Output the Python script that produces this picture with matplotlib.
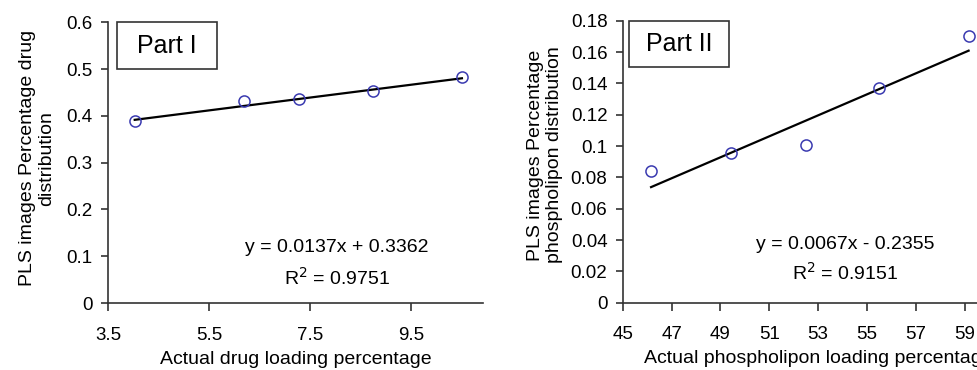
import matplotlib.pyplot as plt
from matplotlib.patches import Rectangle
from matplotlib.ticker import FuncFormatter

plt.rcParams['font.family'] = ['Liberation Sans', 'DejaVu Sans']

# Part I data (drug)
drug_x = [4.03, 6.19, 7.28, 8.75, 10.51]
drug_y = [0.389, 0.432, 0.435, 0.453, 0.483]
drug_slope, drug_icpt = 0.0137, 0.3362
drug_eq = ['y = 0.0137x + 0.3362', 'R$^2$ = 0.9751']
drug_xticks = [3.5, 5.5, 7.5, 9.5]
drug_yticks = [0, 0.1, 0.2, 0.3, 0.4, 0.5, 0.6]

# Part II data (phospholipon)
phos_x = [46.16, 49.42, 52.5, 55.5, 59.16]
phos_y = [0.0841, 0.0957, 0.1007, 0.1368, 0.1704]
phos_slope, phos_icpt = 0.0067, -0.2355
phos_eq = ['y = 0.0067x - 0.2355', 'R$^2$ = 0.9151']
phos_xticks = [45, 47, 49, 51, 53, 55, 57, 59]
phos_yticks = [0, 0.02, 0.04, 0.06, 0.08, 0.1, 0.12, 0.14, 0.16, 0.18]

fig = plt.figure(figsize=(9.77, 3.7), dpi=100)
ax1 = fig.add_axes([0.1105, 0.181, 0.384, 0.759])
ax2 = fig.add_axes([0.6374, 0.182, 0.400, 0.762])

gfmt = FuncFormatter(lambda v, p: '%g' % round(v, 4))


def draw(ax, xs, ys, m, b, eq, xt, yt, xlim, ylim, xlabel, ylabel, part,
         box, eqpos, ylab_pos):
    ax.plot(xs, ys, 'o', mfc='none', mec='#3a3ab0', ms=8, mew=1.1,
            zorder=3, clip_on=False)
    fx = [xs[0], xs[-1]]
    ax.plot(fx, [m * v + b for v in fx], color='black', lw=1.6, zorder=2)
    ax.set_xlim(*xlim)
    ax.set_ylim(*ylim)
    ax.set_xticks(xt)
    ax.set_yticks(yt)
    ax.yaxis.set_major_formatter(gfmt)
    ax.xaxis.set_major_formatter(gfmt)
    for s in ['top', 'right']:
        ax.spines[s].set_visible(False)
    for s in ['left', 'bottom']:
        ax.spines[s].set_color('#333333')
        ax.spines[s].set_linewidth(1.2)
    ax.tick_params(direction='out', length=5, width=1.2, color='#333333',
                   labelsize=13.5)
    ax.tick_params(axis='x', pad=11, length=6)
    ax.tick_params(axis='y', pad=6)
    ax.set_xlabel(xlabel, fontsize=14, labelpad=5)
    ax.set_ylabel(ylabel, fontsize=14, va='center', ha='center',
                  linespacing=1.1)
    ax.yaxis.set_label_coords(*ylab_pos)
    x0, y0, x1, y1 = box
    ax.add_patch(Rectangle((x0, y0), x1 - x0, y1 - y0, transform=ax.transAxes,
                           fill=False, ec='#333333', lw=1.2, clip_on=False))
    ax.text((x0 + x1) / 2, (y0 + y1) / 2, part, transform=ax.transAxes,
            ha='center', va='center', fontsize=18)
    ax.text(eqpos[0], eqpos[1], eq[0], transform=ax.transAxes,
            ha='center', va='center', fontsize=14)
    ax.text(eqpos[0], eqpos[2], eq[1], transform=ax.transAxes,
            ha='center', va='center', fontsize=14)


draw(ax1, drug_x, drug_y, drug_slope, drug_icpt, drug_eq, drug_xticks,
     drug_yticks, (3.5, 10.93), (0, 0.6), 'Actual drug loading percentage',
     'PLS images Percentage drug\ndistribution', 'Part I',
     (0.024, 0.833, 0.291, 1.0), (0.611, 0.196, 0.089), (-0.189, 0.516))

draw(ax2, phos_x, phos_y, phos_slope, phos_icpt, phos_eq, phos_xticks,
     phos_yticks, (45, 61), (0, 0.18), 'Actual phospholipon loading percentage',
     'PLS images Percentage\nphospholipon distribution', 'Part II',
     (0.016, 0.836, 0.272, 0.999), (0.569, 0.208, 0.105), (-0.199, 0.524))

fig.savefig('out.png', dpi=100)
